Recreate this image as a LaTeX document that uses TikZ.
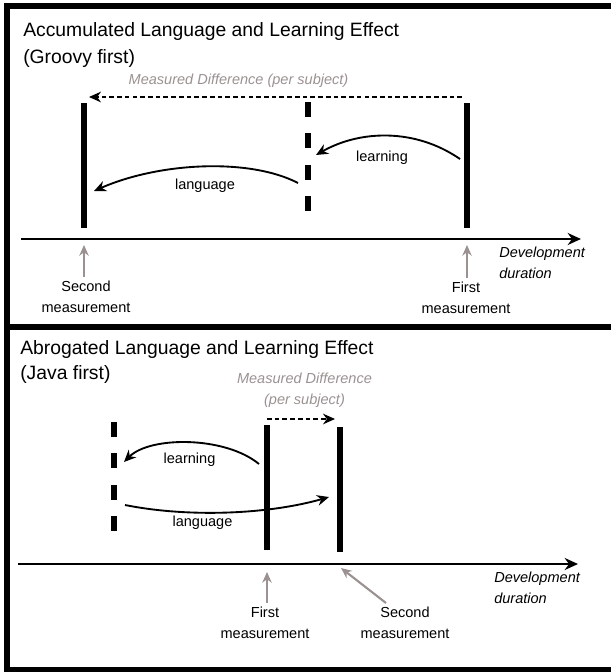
\documentclass[tikz,border=0pt]{standalone}
\usepackage{fontspec}
\setmainfont{Liberation Sans}
\usetikzlibrary{arrows.meta}
\definecolor{notegray}{RGB}{155,145,145}

\begin{document}
\begin{tikzpicture}[x=0.75pt,y=-0.75pt]

%
% Styles
%
\tikzstyle{bar} = [line width=4.5pt]
\tikzstyle{dashedbar} = [line width=4.5pt,dash pattern=on 11.25pt off 12.3pt]
\tikzstyle{effect} = [line width=1.4pt,-{Stealth[length=9pt,width=8pt]}]
\tikzstyle{timeline} = [line width=1.5pt,-{Stealth[length=10pt,width=9pt]}]
\tikzstyle{diff} = [line width=1.1pt,dash pattern=on 3.5pt off 2.3pt,-{Stealth[length=9pt,width=8pt]}]
\tikzstyle{pointer} = [line width=1.6pt,draw=notegray,-{Stealth[length=8pt,width=7pt]}]
\tikzstyle{title} = [anchor=base west,inner sep=0pt,font=\fontsize{14.5}{17}\selectfont]
\tikzstyle{lbl} = [inner sep=0pt,align=center,font=\fontsize{10.9}{15.75}\selectfont]
\tikzstyle{note} = [lbl,text=notegray,font=\fontsize{10.9}{15.75}\selectfont\itshape]
\tikzstyle{axislbl} = [lbl,anchor=west,align=left,font=\fontsize{10.9}{15.75}\selectfont\itshape]

\useasboundingbox (0,0) rectangle (611,672);

%
% Frame
%
\draw[line width=4.5pt] (611,6) -- (6.5,6) -- (6.5,672);
\draw[line width=4.5pt] (6.5,326.5) -- (611,326.5);
\draw[line width=4.5pt] (6.5,669.5) -- (611,669.5);

%
% Groovy first
%
\node[title] (gtitle) at (23,36) {Accumulated Language and Learning Effect};
\node[title] (gsub) at (23,63) {(Groovy first)};
\node[note] (gdiff) at (238.5,80.5) {Measured Difference (per subject)};

\coordinate (gsecondtop) at (84,103);
\coordinate (gsecondbot) at (84,228);
\coordinate (gmidtop) at (308,102);
\coordinate (gmidbot) at (308,212);
\coordinate (gfirsttop) at (467,103);
\coordinate (gfirstbot) at (467,228);

\draw[bar] (gsecondtop) -- (gsecondbot);
\draw[dashedbar] (gmidtop) -- (gmidbot);
\draw[bar] (gfirsttop) -- (gfirstbot);

\coordinate (gaxisstart) at (21,239);
\coordinate (gaxisend) at (581,239);
\draw[timeline] (gaxisstart) -- (gaxisend);

\coordinate (gdiffstart) at (462,97);
\coordinate (gdiffend) at (89,97);
\draw[diff] (gdiffstart) -- (gdiffend);

\coordinate (glearnstart) at (460,159);
\coordinate (glearnend) at (316,155);
\draw[effect] (glearnstart) .. controls (415,128) and (360,130) .. (glearnend);
\node[lbl] (glearn) at (382,158) {learning};

\coordinate (glangstart) at (298,183);
\coordinate (glangend) at (94,191);
\draw[effect] (glangstart) .. controls (250,158) and (160,162) .. (glangend);
\node[lbl] (glang) at (205,186) {language};

\node[lbl] (gsecond) at (86,297) {Second\\measurement};
\node[lbl] (gfirst) at (466,298) {First\\measurement};
\node[axislbl] (gduration) at (499,263) {Development\\duration};

\coordinate (gsecondtip) at (84,245);
\coordinate (gfirsttip) at (467,245);
\draw[pointer] (gsecond.north -| gsecondtip) ++(0,-4) -- (gsecondtip);
\draw[pointer] (gfirst.north -| gfirsttip) ++(0,-4) -- (gfirsttip);

%
% Java first
%
\node[title] (jtitle) at (20,354) {Abrogated Language and Learning Effect};
\node[title] (jsub) at (20,379) {(Java first)};
\node[note] (jdiff) at (304.5,390) {Measured Difference\\(per subject)};

\coordinate (jmidtop) at (114,422);
\coordinate (jmidbot) at (114,532);
\coordinate (jfirsttop) at (267,425);
\coordinate (jfirstbot) at (267,550);
\coordinate (jsecondtop) at (340,427);
\coordinate (jsecondbot) at (340,552);

\draw[dashedbar] (jmidtop) -- (jmidbot);
\draw[bar] (jfirsttop) -- (jfirstbot);
\draw[bar] (jsecondtop) -- (jsecondbot);

\coordinate (jaxisstart) at (18,564);
\coordinate (jaxisend) at (578,564);
\draw[timeline] (jaxisstart) -- (jaxisend);

\coordinate (jdiffstart) at (267,419);
\coordinate (jdiffend) at (335,419);
\draw[diff] (jdiffstart) -- (jdiffend);

\coordinate (jlearnstart) at (259,464);
\coordinate (jlearnend) at (124,462);
\draw[effect] (jlearnstart) .. controls (225,436) and (150,436) .. (jlearnend);
\node[lbl] (jlearn) at (189.5,460) {learning};

\coordinate (jlangstart) at (125,505);
\coordinate (jlangend) at (329,497);
\draw[effect] (jlangstart) .. controls (190,518) and (270,514) .. (jlangend);
\node[lbl] (jlang) at (202.5,523) {language};

\node[lbl] (jfirst) at (265,623) {First\\measurement};
\node[lbl] (jsecond) at (405,623) {Second\\measurement};
\node[axislbl] (jduration) at (494,588) {Development\\duration};

\coordinate (jfirsttip) at (267,572);
\coordinate (jsecondtail) at (386,603);
\coordinate (jsecondtip) at (341,568);
\draw[pointer] (jfirst.north -| jfirsttip) ++(0,-4) -- (jfirsttip);
\draw[pointer] (jsecondtail) -- (jsecondtip);

\end{tikzpicture}
\end{document}
